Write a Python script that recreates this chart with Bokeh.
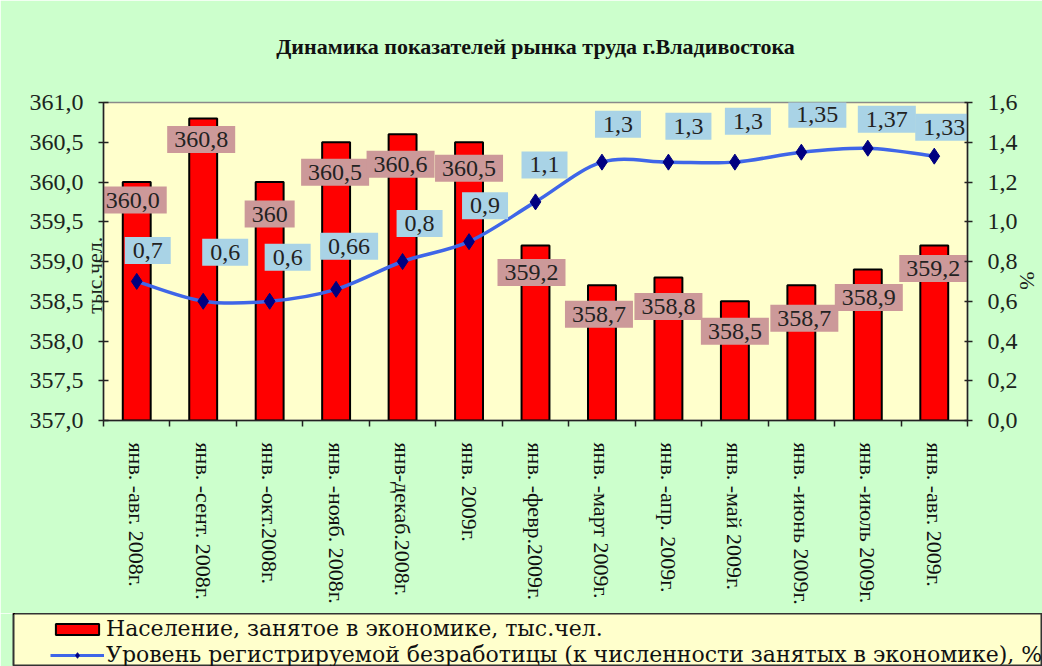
import math
from bokeh.plotting import figure
from bokeh.models import (ColumnDataSource, Range1d, LinearAxis, FixedTicker,
                          Legend, LegendItem, CustomJSTickFormatter)
from bokeh.core.properties import value
from bokeh.embed import file_html
from bokeh.resources import INLINE

# ---------------- data ----------------
categories = ["янв. -авг. 2008г.", "янв. -сент. 2008г.", "янв. -окт.2008г.",
              "янв. -нояб. 2008г.", "янв-декаб.2008г.", "янв. 2009г.",
              "янв. -февр.2009г.", "янв. -март 2009г.", "янв. -апр. 2009г.",
              "янв. -май 2009г.", "янв. -июнь 2009г.", "янв. -июль 2009г.",
              "янв. -авг. 2009г."]
employed = [360.0, 360.8, 360.0, 360.5, 360.6, 360.5, 359.2, 358.7, 358.8, 358.5, 358.7, 358.9, 359.2]
employed_labels = ["360,0", "360,8", "360", "360,5", "360,6", "360,5", "359,2",
                   "358,7", "358,8", "358,5", "358,7", "358,9", "359,2"]
unemployment = [0.7, 0.6, 0.6, 0.66, 0.8, 0.9, 1.1, 1.3, 1.3, 1.3, 1.35, 1.37, 1.33]
unemployment_labels = ["0,7", "0,6", "0,6", "0,66", "0,8", "0,9", "1,1",
                       "1,3", "1,3", "1,3", "1,35", "1,37", "1,33"]
left_ticks = [357.0, 357.5, 358.0, 358.5, 359.0, 359.5, 360.0, 360.5, 361.0]
right_ticks = [0.0, 0.2, 0.4, 0.6, 0.8, 1.0, 1.2, 1.4, 1.6]

title_text = "Динамика показателей рынка труда г.Владивостока"
left_axis_title = "тыс.чел."
right_axis_title = "%"
legend_bar = "Население, занятое в экономике, тыс.чел."
legend_line = "Уровень регистрируемой безработицы (к численности занятых в экономике), %"

# label placement (pixel offsets), styling only
bar_lbl_dx = [-4, -2, 0, -1, -2, 0, -4, -3, 0, 0, 3, 1, -1]
bar_lbl_dy = [18, 21, 32, 30, 30, 26, 27, 29, 29, 30, 33, 28, 23]      # downward
line_lbl_dx = [11, 22, 18, 13, 17, 16, 9, 16, 20, 13, 16, 19, 10]
line_lbl_dy = [31, 49, 44, 43, 38, 36, 37, 38, 36, 41, 38, 29, 29]     # upward

FONT_NAME = "Liberation Serif"
FONT = value(FONT_NAME)
TXT = "#1c241c"
NB = "\u00a0"
GREEN = "#CCFFCC"
YELLOW = "#FFFFCC"
LINE_COLOR = "#3F66E8"

n = len(categories)
xs = list(range(n))

src = ColumnDataSource(dict(
    x=xs, employed=employed, emp_lbl=employed_labels,
    bdx=bar_lbl_dx, bdy=bar_lbl_dy,
    unemp=unemployment, un_lbl=unemployment_labels,
    ldx=line_lbl_dx, ldy=[-v for v in line_lbl_dy],
))

p = figure(width=1042, height=613,
           x_range=Range1d(-0.5, n - 0.5), y_range=Range1d(357, 361),
           output_backend="svg", toolbar_location=None,
           min_border_left=103, min_border_right=67, min_border_top=102, min_border_bottom=193,
           background_fill_color=YELLOW, border_fill_color=GREEN,
           outline_line_color="#8a8a8a", outline_line_width=1.5)
p.extra_y_ranges = {"pct": Range1d(0, 1.6)}
p.xgrid.visible = False
p.ygrid.visible = False

# keep handles on the default axes before adding more
xa = p.xaxis[0]
ya = p.yaxis[0]

fmt = CustomJSTickFormatter(code="return tick.toFixed(1).replace('.', ',');")

# left axis
ya.ticker = FixedTicker(ticks=left_ticks, minor_ticks=[])
ya.formatter = fmt
ya.major_tick_in = 5
ya.major_tick_out = 5
ya.major_label_standoff = 15
ya.major_label_text_font = FONT_NAME
ya.major_label_text_font_size = "24px"
ya.major_label_text_color = TXT
ya.axis_line_color = "#222222"
ya.axis_line_width = 1.5
ya.major_tick_line_color = "#222222"
ya.major_tick_line_width = 1.5
ya.axis_label = left_axis_title + NB * 5
ya.axis_label_standoff = -80
ya.axis_label_text_font = FONT_NAME
ya.axis_label_text_font_style = "normal"
ya.axis_label_text_font_size = "22px"
ya.axis_label_text_color = TXT

# x axis (below)
xa.ticker = FixedTicker(ticks=xs, minor_ticks=[i - 0.5 for i in range(n + 1)])
xa.major_label_overrides = {i: c for i, c in zip(xs, categories)}
xa.major_label_orientation = -math.pi / 2
xa.major_tick_in = 0
xa.major_tick_out = 0
xa.minor_tick_in = 0
xa.minor_tick_out = 6
xa.minor_tick_line_color = "#222222"
xa.minor_tick_line_width = 1.5
xa.major_label_standoff = 16
xa.major_label_text_font = FONT_NAME
xa.major_label_text_font_size = "22px"
xa.major_label_text_color = "#111111"
xa.axis_line_color = "#222222"
xa.axis_line_width = 1.5

# right axis
ra = LinearAxis(y_range_name="pct", ticker=FixedTicker(ticks=right_ticks, minor_ticks=[]),
                formatter=fmt)
ra.major_tick_in = 3
ra.major_tick_out = 5
ra.major_label_standoff = 15
ra.major_label_text_font = FONT_NAME
ra.major_label_text_font_size = "24px"
ra.major_label_text_color = TXT
ra.axis_line_color = "#222222"
ra.axis_line_width = 1.5
ra.major_tick_line_color = "#222222"
ra.major_tick_line_width = 1.5
ra.axis_label = NB * 7 + right_axis_title
ra.axis_label_standoff = -6
ra.axis_label_text_font = FONT_NAME
ra.axis_label_text_font_style = "normal"
ra.axis_label_text_font_size = "22px"
ra.axis_label_text_color = TXT
p.add_layout(ra, "right")

# title drawn as the label of a bare axis above the frame
ta = LinearAxis(ticker=FixedTicker(ticks=[], minor_ticks=[]))
ta.axis_line_color = None
ta.major_tick_line_color = None
ta.minor_tick_line_color = None
ta.major_tick_out = 0
ta.major_tick_in = 0
ta.minor_tick_out = 0
ta.minor_tick_in = 0
ta.major_label_standoff = 0
ta.axis_label = title_text
ta.axis_label_standoff = 44
ta.axis_label_text_font = FONT_NAME
ta.axis_label_text_font_style = "bold"
ta.axis_label_text_font_size = "22px"
ta.axis_label_text_color = "#111111"
p.add_layout(ta, "above")

# bars
BAR_STYLE = dict(fill_color="#FF0000", line_color="#000000", line_width=2)
p.vbar(x="x", top="employed", bottom=357, width=0.42, source=src, **BAR_STYLE)

# smoothed line (Catmull-Rom -> cubic Bezier computed from the data points)
pts = list(zip(xs, unemployment))
bx0, by0, bx1, by1, cx0, cy0, cx1, cy1 = ([] for _ in range(8))
for i in range(n - 1):
    p0 = pts[i - 1] if i > 0 else pts[i]
    p1 = pts[i]
    p2 = pts[i + 1]
    p3 = pts[i + 2] if i + 2 < n else pts[i + 1]
    bx0.append(p1[0]); by0.append(p1[1])
    bx1.append(p2[0]); by1.append(p2[1])
    cx0.append(p1[0] + (p2[0] - p0[0]) / 6.0); cy0.append(p1[1] + (p2[1] - p0[1]) / 6.0)
    cx1.append(p2[0] - (p3[0] - p1[0]) / 6.0); cy1.append(p2[1] - (p3[1] - p1[1]) / 6.0)
bez = ColumnDataSource(dict(x0=bx0, y0=by0, x1=bx1, y1=by1, cx0=cx0, cy0=cy0, cx1=cx1, cy1=cy1))
p.bezier(x0="x0", y0="y0", x1="x1", y1="y1", cx0="cx0", cy0="cy0", cx1="cx1", cy1="cy1",
         source=bez, y_range_name="pct", line_color=LINE_COLOR, line_width=3.5)
MARKER_STYLE = dict(marker="diamond", size=16, fill_color="#000080", line_color="#000080")
p.scatter(x="x", y="unemp", source=src, y_range_name="pct", **MARKER_STYLE)

# data labels
p.text(x="x", y="employed", text="emp_lbl", source=src, x_offset="bdx", y_offset="bdy",
       text_align="center", text_baseline="middle", text_font=FONT, text_font_size="24px",
       text_color="#222222", background_fill_color="#CC9999", padding=(7, 6))
p.text(x="x", y="unemp", text="un_lbl", source=src, y_range_name="pct",
       x_offset="ldx", y_offset="ldy",
       text_align="center", text_baseline="middle", text_font=FONT, text_font_size="24px",
       text_color="#222222", background_fill_color="#A9D3E6", padding=(8, 6))

# ---------------- legend strip (separate root below the chart) ----------------
lg = figure(width=1042, height=53, x_range=Range1d(100, 101), y_range=Range1d(0, 1),
            x_axis_type=None, y_axis_type=None, output_backend="svg", toolbar_location=None,
            min_border_left=13, min_border_right=0, min_border_top=0, min_border_bottom=0,
            background_fill_color=YELLOW, border_fill_color=GREEN,
            outline_line_color="#333333", outline_line_width=2)
lg.xgrid.visible = False
lg.ygrid.visible = False
# legend proxies use the real series, positioned outside this strip's visible range
r_bar = lg.vbar(x="x", top="employed", bottom=357, width=0.42, source=src, **BAR_STYLE)
r_line = lg.line(x="x", y="unemp", source=src, line_color=LINE_COLOR, line_width=3)
r_mark = lg.scatter(x="x", y="unemp", source=src, **MARKER_STYLE)
legend = Legend(items=[LegendItem(label=legend_bar, renderers=[r_bar]),
                       LegendItem(label=legend_line, renderers=[r_line, r_mark])],
                location=(37, -1), orientation="vertical",
                background_fill_alpha=0, border_line_alpha=0,
                padding=0, margin=0, spacing=1, label_standoff=2,
                glyph_width=54, glyph_height=14,
                label_text_font="DejaVu Serif", label_text_font_size="22px",
                label_text_color="#111111")
lg.add_layout(legend)

open("out.html", "w").write(file_html([p, lg], INLINE))
